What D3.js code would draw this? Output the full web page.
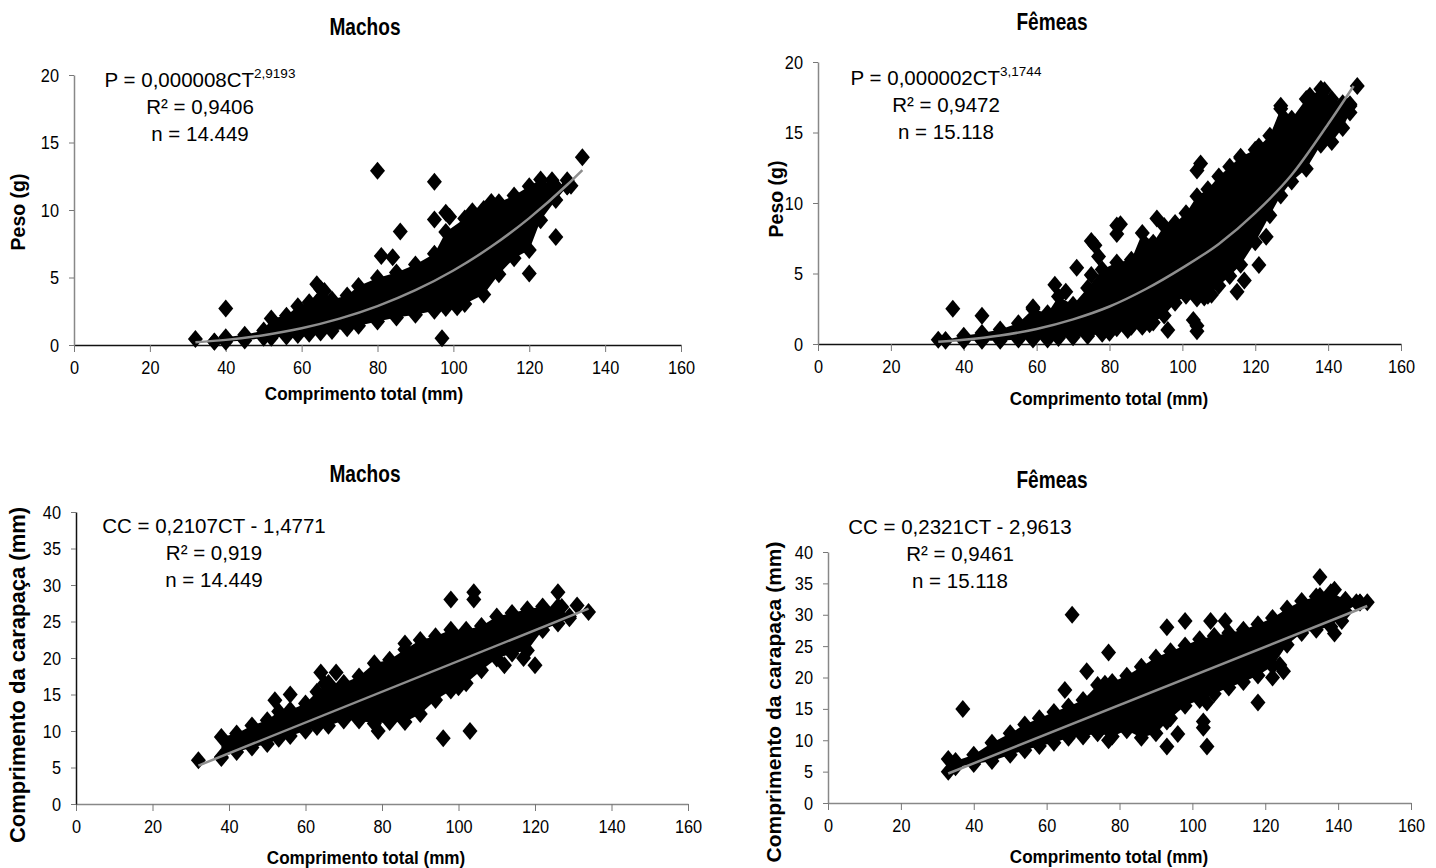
<!DOCTYPE html>
<html>
<head>
<meta charset="utf-8">
<script src="https://cdn.jsdelivr.net/npm/d3@7"></script>
<style>
  body { margin: 0; background: #fff; }
  svg text { fill: #000; }
  .tick text { font-family: "Liberation Sans", Arial, sans-serif; font-size: 19px; }
</style>
</head>
<body>
<svg id="chart" width="1436" height="868"></svg>
<script>
// tick values
const xTicks = [0, 20, 40, 60, 80, 100, 120, 140, 160];
const pesoTicks = [0, 5, 10, 15, 20];
const ccTicks = [0, 5, 10, 15, 20, 25, 30, 35, 40];

// Machos: peso x comprimento total (dense cloud read as its outer edges)
const mPesoBandX = [37, 40, 45, 50, 52, 56, 59, 62, 65, 68, 72, 75, 80, 85, 90, 95, 98, 103, 108, 112, 116, 120, 123, 127, 130];
const mPesoBandTop = [0.5, 0.8, 1.0, 1.3, 2.2, 2.4, 3.1, 3.4, 4.4, 3.6, 3.9, 4.6, 5.2, 5.6, 6.2, 7.0, 8.6, 9.6, 10.3, 10.8, 11.3, 12.0, 12.5, 12.0, 12.0];
const mPesoBandBottom = [0.0, 0.0, 0.1, 0.3, 0.3, 0.4, 0.5, 0.6, 0.7, 0.8, 1.0, 1.2, 1.5, 1.8, 2.0, 2.3, 2.5, 2.8, 3.5, 5.0, 6.2, 6.8, 9.0, 10.5, 11.5];
const mPesoOutX = [32, 40, 80, 81, 84, 86, 95, 95, 97, 98, 99, 101, 120, 127, 126, 130, 131, 134, 64, 66, 110, 105];
const mPesoOutY = [0.45, 2.7, 12.9, 6.6, 6.5, 8.4, 12.1, 9.3, 0.5, 9.8, 9.5, 2.8, 5.3, 8.0, 12.2, 12.2, 11.8, 13.9, 4.5, 4.0, 10.6, 9.9];
const mPesoTrendX = [32, 40, 50, 60, 70, 80, 90, 100, 110, 120, 130, 134];
const mPesoTrendY = [0.2, 0.38, 0.73, 1.24, 1.95, 2.88, 4.06, 5.52, 7.29, 9.4, 11.87, 12.96];

// Femeas: peso x comprimento total
const fPesoBandX = [35, 40, 45, 50, 55, 59, 63, 66, 70, 74, 78, 82, 86, 89, 92, 95, 98, 101, 104, 107, 110, 113, 116, 120, 124, 127, 130, 134, 138, 141, 144, 146];
const fPesoBandTop = [0.5, 0.8, 1.0, 1.25, 1.7, 2.7, 2.4, 3.6, 3.0, 4.2, 5.5, 6.0, 6.2, 8.1, 7.4, 8.6, 8.8, 9.5, 10.7, 11.2, 12.1, 12.8, 13.5, 14.0, 15.0, 16.9, 16.2, 17.6, 18.3, 17.6, 17.3, 17.1];
const fPesoBandBottom = [0.0, 0.0, 0.0, 0.0, 0.1, 0.1, 0.1, 0.2, 0.25, 0.35, 0.5, 0.9, 1.0, 1.0, 1.3, 1.8, 2.7, 3.2, 3.0, 3.2, 3.9, 4.6, 5.4, 7.0, 8.9, 10.3, 11.3, 12.2, 13.9, 14.1, 15.1, 16.2];
const fPesoOutX = [33, 37, 45, 59, 65, 68, 71, 75, 76, 77, 75, 82, 83, 82, 93, 96, 103, 104, 104, 104, 105, 106, 108, 115, 117, 121, 123, 121, 127, 128, 135, 139, 139, 145, 146, 148, 84, 85, 89, 91, 80, 116];
const fPesoOutY = [0.3, 2.5, 2.0, 2.6, 4.2, 3.7, 5.4, 7.3, 7.0, 6.2, 4.9, 8.4, 8.5, 7.8, 8.9, 1.0, 1.7, 0.9, 1.3, 12.3, 12.8, 3.3, 3.5, 3.7, 4.5, 5.6, 7.6, 14.0, 16.9, 16.0, 17.6, 18.0, 17.3, 16.9, 17.0, 18.3, 1.5, 1.0, 1.3, 1.4, 0.8, 13.2];
const fPesoTrendX = [33, 40, 50, 60, 70, 80, 90, 100, 110, 120, 130, 140, 147];
const fPesoTrendY = [0.16, 0.3, 0.6, 1.07, 1.75, 2.66, 3.9, 5.4, 7.1, 9.3, 12.0, 15.6, 18.3];

// Machos: comprimento da carapaca x comprimento total
const mCCBandX = [38, 42, 46, 50, 53, 56, 60, 63, 66, 70, 74, 78, 82, 86, 90, 94, 98, 102, 106, 110, 114, 118, 122, 126, 129];
const mCCBandTop = [9.6, 10.1, 11.2, 11.9, 13.1, 13.3, 14.2, 15.8, 17.0, 17.0, 17.9, 19.7, 20.2, 21.6, 22.9, 23.4, 24.3, 24.3, 24.8, 26.1, 26.6, 27.1, 27.5, 27.5, 26.1];
const mCCBandBottom = [6.0, 6.7, 7.3, 7.8, 8.5, 8.9, 9.6, 10.1, 10.3, 11.0, 11.0, 10.6, 10.8, 10.8, 11.9, 13.8, 15.1, 16.1, 17.9, 19.5, 20.2, 20.6, 23.4, 24.3, 25.0];
const mCCOutX = [32, 38, 52, 56, 64, 65, 68, 79, 86, 96, 98, 103, 104, 104, 112, 117, 120, 126, 127, 131, 134, 100];
const mCCOutY = [6.0, 6.3, 14.2, 15.0, 18.0, 16.5, 18.0, 10.0, 22.0, 9.0, 28.0, 10.0, 29.0, 28.0, 19.0, 20.0, 19.0, 29.0, 27.0, 27.2, 26.3, 16.0];
const mCCTrendX = [32, 134];
const mCCTrendY = [5.26, 26.76];

// Femeas: comprimento da carapaca x comprimento total
const fCCBandX = [35, 40, 45, 50, 54, 58, 62, 66, 70, 74, 78, 82, 86, 90, 94, 98, 102, 106, 110, 114, 118, 122, 126, 130, 134, 138, 142, 146];
const fCCBandTop = [7.2, 8.2, 10.1, 11.6, 13.0, 14.0, 15.0, 15.9, 16.9, 19.3, 19.8, 20.8, 22.2, 23.7, 24.7, 25.6, 26.6, 27.1, 27.6, 28.1, 29.0, 30.0, 31.5, 32.7, 33.4, 34.1, 32.9, 32.4];
const fCCBandBottom = [5.2, 5.7, 6.2, 7.2, 7.9, 8.6, 9.1, 9.9, 10.1, 10.6, 10.1, 11.1, 9.9, 10.6, 13.0, 15.0, 15.9, 16.9, 17.9, 18.8, 19.8, 21.3, 24.7, 26.6, 27.1, 27.6, 30.0, 31.5];
const fCCOutX = [33, 33, 37, 65, 67, 71, 77, 76, 77, 93, 93, 96, 93, 98, 105, 109, 103, 103, 104, 104, 118, 122, 124, 125, 135, 135, 139, 139, 141, 145, 148];
const fCCOutY = [5.0, 7.0, 15.0, 18.0, 30.0, 21.0, 24.0, 19.0, 10.0, 9.0, 13.0, 11.0, 28.0, 29.0, 29.0, 29.0, 12.0, 13.0, 9.0, 16.0, 16.0, 20.0, 22.0, 21.0, 36.0, 33.0, 34.0, 27.0, 29.0, 32.0, 32.0];
const fCCTrendX = [33, 148];
const fCCTrendY = [4.7, 31.39];

const panels = [
  { title: "Machos", titleX: 365, titleY: 35, left: 74, right: 681, top: 75, bottom: 345,
    yMax: 20, yTicks: pesoTicks, yLabel: "Peso (g)", yLabelX: 25, yLabelY: 212, yLabelSize: 19.5,
    xLabelX: 364, xLabelY: 400,
    bandX: mPesoBandX, bandTop: mPesoBandTop, bandBottom: mPesoBandBottom,
    outX: mPesoOutX, outY: mPesoOutY, trendX: mPesoTrendX, trendY: mPesoTrendY, curve: d3.curveMonotoneX,
    ann: { x: 200, y: 87, l1: "P = 0,000008CT", sup: "2,9193", l2: "R² = 0,9406", l3: "n = 14.449" },
    yAxisColor: "#888", xAxisColor: "#111" },
  { title: "Fêmeas", titleX: 1052, titleY: 30, left: 818, right: 1401, top: 62, bottom: 344,
    yMax: 20, yTicks: pesoTicks, yLabel: "Peso (g)", yLabelX: 783, yLabelY: 199, yLabelSize: 19.5,
    xLabelX: 1109, xLabelY: 405,
    bandX: fPesoBandX, bandTop: fPesoBandTop, bandBottom: fPesoBandBottom,
    outX: fPesoOutX, outY: fPesoOutY, trendX: fPesoTrendX, trendY: fPesoTrendY, curve: d3.curveMonotoneX,
    ann: { x: 946, y: 85, l1: "P = 0,000002CT", sup: "3,1744", l2: "R² = 0,9472", l3: "n = 15.118" },
    yAxisColor: "#888", xAxisColor: "#111" },
  { title: "Machos", titleX: 365, titleY: 482, left: 76, right: 688, top: 512, bottom: 804,
    yMax: 40, yTicks: ccTicks, yLabel: "Comprimento da carapaça (mm)", yLabelX: 25, yLabelY: 675, yLabelSize: 22,
    xLabelX: 366, xLabelY: 864,
    bandX: mCCBandX, bandTop: mCCBandTop, bandBottom: mCCBandBottom,
    outX: mCCOutX, outY: mCCOutY, trendX: mCCTrendX, trendY: mCCTrendY, curve: d3.curveLinear,
    ann: { x: 214, y: 533, l1: "CC = 0,2107CT - 1,4771", sup: "", l2: "R² = 0,919", l3: "n = 14.449" },
    yAxisColor: "#111", xAxisColor: "#888" },
  { title: "Fêmeas", titleX: 1052, titleY: 488, left: 828, right: 1411, top: 552, bottom: 803,
    yMax: 40, yTicks: ccTicks, yLabel: "Comprimento da carapaça (mm)", yLabelX: 781, yLabelY: 702, yLabelSize: 21,
    xLabelX: 1109, xLabelY: 863,
    bandX: fCCBandX, bandTop: fCCBandTop, bandBottom: fCCBandBottom,
    outX: fCCOutX, outY: fCCOutY, trendX: fCCTrendX, trendY: fCCTrendY, curve: d3.curveLinear,
    ann: { x: 960, y: 534, l1: "CC = 0,2321CT - 2,9613", sup: "", l2: "R² = 0,9461", l3: "n = 15.118" },
    yAxisColor: "#888", xAxisColor: "#888" }
];

const svg = d3.select("#chart");
const font = "'Liberation Sans', Arial, sans-serif";
const tickSqueeze = 0.86;

// diamond marker, a little taller than wide like the picture
const hw = 7.5, hh = 9;
const diamond = `M0,${-hh}L${hw},0L0,${hh}L${-hw},0Z`;
const inset = hh * 0.35;

// squeezed text stands in for the condensed face of the original
function narrowText(g, cx, cy, txt, size, sx, bold) {
  return g.append("text")
    .attr("transform", `translate(${cx},${cy}) scale(${sx},1)`)
    .attr("text-anchor", "middle")
    .style("font-family", font)
    .style("font-weight", bold ? "bold" : "normal")
    .style("font-size", size + "px")
    .text(txt);
}

panels.forEach(p => {
  const g = svg.append("g");

  const x = d3.scaleLinear().domain([0, 160]).range([p.left, p.right]);
  const y = d3.scaleLinear().domain([0, p.yMax]).range([p.bottom, p.top]);

  // titles
  narrowText(g, p.titleX, p.titleY, p.title, 23, 0.83, true);
  narrowText(g, p.xLabelX, p.xLabelY, "Comprimento total (mm)", 19, 0.9, true);

  g.append("text")
    .attr("transform", `translate(${p.yLabelX},${p.yLabelY}) rotate(-90)`)
    .attr("text-anchor", "middle")
    .style("font-family", font).style("font-weight", "bold").style("font-size", p.yLabelSize + "px")
    .text(p.yLabel);

  // axes
  const xAxis = g.append("g")
    .attr("transform", `translate(0,${p.bottom})`)
    .call(d3.axisBottom(x).tickValues(xTicks).tickSize(7).tickSizeOuter(0).tickPadding(9));
  xAxis.select(".domain").attr("stroke", p.xAxisColor).attr("stroke-width", 1.5);
  xAxis.selectAll(".tick line").attr("stroke", "#777");
  xAxis.selectAll(".tick text").attr("transform", `scale(${tickSqueeze},1)`);

  const yAxis = g.append("g")
    .attr("transform", `translate(${p.left},0)`)
    .call(d3.axisLeft(y).tickValues(p.yTicks).tickSize(5).tickSizeOuter(0).tickPadding(10));
  yAxis.select(".domain").attr("stroke", p.yAxisColor).attr("stroke-width", 1.5);
  yAxis.selectAll(".tick line").attr("stroke", "#777");
  yAxis.selectAll(".tick text")
    .attr("x", -15 / tickSqueeze)
    .attr("transform", `scale(${tickSqueeze},1)`);

  // dense cloud: edges pulled in a little, markers sit on those edges
  const band = p.bandX.map((v, i) => {
    const yt = y(p.bandTop[i]), yb = y(p.bandBottom[i]), mid = (yt + yb) / 2;
    return { px: x(v), t: Math.min(yt + inset, mid), b: Math.max(yb - inset, mid) };
  });
  g.append("path")
    .datum(band)
    .attr("fill", "#000")
    .attr("d", d3.area().x(d => d.px).y0(d => d.b).y1(d => d.t));

  g.selectAll(".edgeTop").data(band).enter().append("path")
    .attr("d", diamond)
    .attr("transform", d => `translate(${d.px},${d.t})`)
    .attr("fill", "#000");
  g.selectAll(".edgeBottom").data(band).enter().append("path")
    .attr("d", diamond)
    .attr("transform", d => `translate(${d.px},${d.b})`)
    .attr("fill", "#000");

  // loose points
  const outs = p.outX.map((v, i) => ({ x: v, y: p.outY[i] }));
  g.selectAll(".out").data(outs).enter().append("path")
    .attr("d", diamond)
    .attr("transform", d => `translate(${x(d.x)},${y(d.y)})`)
    .attr("fill", "#000");

  // trend line
  const trend = p.trendX.map((v, i) => ({ x: v, y: p.trendY[i] }));
  g.append("path")
    .datum(trend)
    .attr("fill", "none")
    .attr("stroke", "#8e8e8e")
    .attr("stroke-width", 2.5)
    .attr("d", d3.line().x(d => x(d.x)).y(d => y(d.y)).curve(p.curve));

  // equation text
  const ann = g.append("g").style("font-family", font).style("font-size", "20.5px");
  const t1 = ann.append("text").attr("x", p.ann.x).attr("y", p.ann.y).attr("text-anchor", "middle");
  t1.append("tspan").text(p.ann.l1);
  if (p.ann.sup) {
    t1.append("tspan").attr("dy", -9).style("font-size", "13.5px").text(p.ann.sup);
  }
  ann.append("text").attr("x", p.ann.x).attr("y", p.ann.y + 27).attr("text-anchor", "middle").text(p.ann.l2);
  ann.append("text").attr("x", p.ann.x).attr("y", p.ann.y + 54).attr("text-anchor", "middle").text(p.ann.l3);
});
</script>
</body>
</html>
